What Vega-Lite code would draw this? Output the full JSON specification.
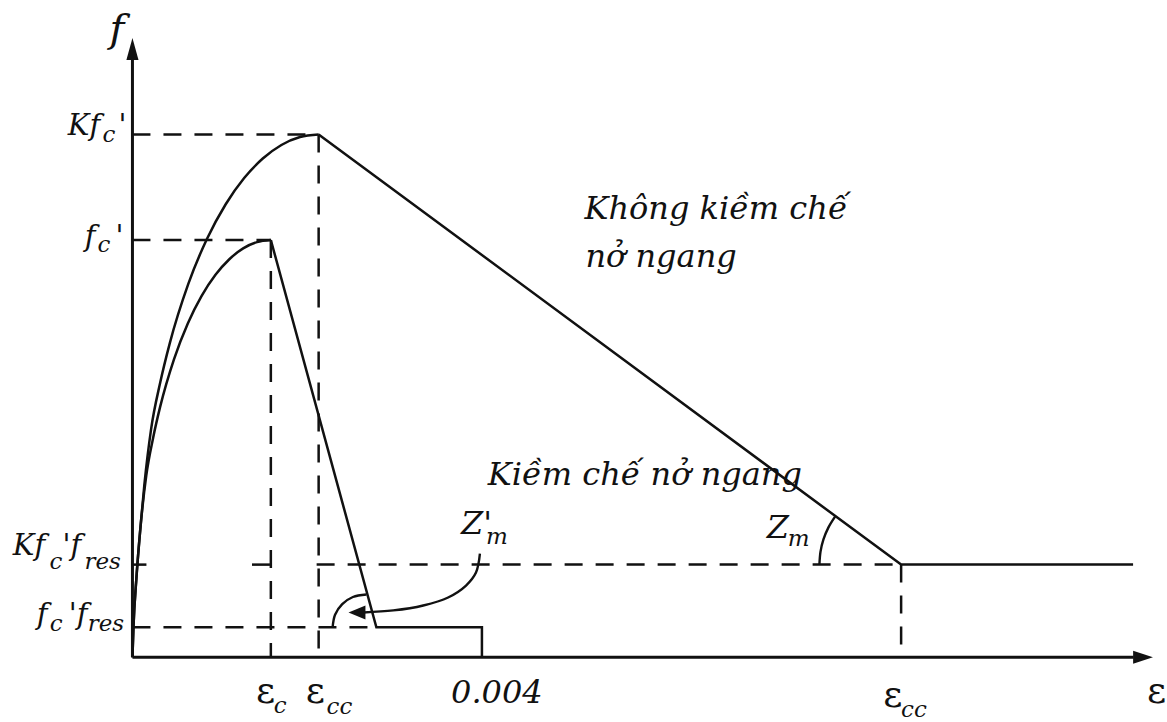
{
  "$schema": "https://vega.github.io/schema/vega-lite/v6.json",
  "width": 1167,
  "height": 722,
  "padding": 0,
  "autosize": {"type": "fit", "contains": "padding"},
  "background": "white",
  "config": {"view": {"stroke": null}},
  "datasets": {
    "rise": [
      {"s": "confined", "o": 0, "x": 0, "y": 0},
      {"s": "confined", "o": 1, "x": 0.0114, "y": 0.0716},
      {"s": "confined", "o": 2, "x": 0.0456, "y": 0.1909},
      {"s": "confined", "o": 3, "x": 0.0912, "y": 0.3103},
      {"s": "confined", "o": 4, "x": 0.1364, "y": 0.4135},
      {"s": "confined", "o": 5, "x": 0.2131, "y": 0.5462},
      {"s": "confined", "o": 6, "x": 0.3197, "y": 0.6601},
      {"s": "confined", "o": 7, "x": 0.4262, "y": 0.7518},
      {"s": "confined", "o": 8, "x": 0.6393, "y": 0.8948},
      {"s": "confined", "o": 9, "x": 0.8524, "y": 1.0024},
      {"s": "confined", "o": 10, "x": 1.0656, "y": 1.0851},
      {"s": "confined", "o": 11, "x": 1.2787, "y": 1.1484},
      {"s": "confined", "o": 12, "x": 1.4918, "y": 1.1952},
      {"s": "confined", "o": 13, "x": 1.7049, "y": 1.2277},
      {"s": "confined", "o": 14, "x": 1.918, "y": 1.2467},
      {"s": "confined", "o": 15, "x": 2.1311, "y": 1.253},
      {"s": "unconfined", "o": 0, "x": 0, "y": 0},
      {"s": "unconfined", "o": 1, "x": 0.0114, "y": 0.0716},
      {"s": "unconfined", "o": 2, "x": 0.0456, "y": 0.1909},
      {"s": "unconfined", "o": 3, "x": 0.0912, "y": 0.3103},
      {"s": "unconfined", "o": 4, "x": 0.1584, "y": 0.4359},
      {"s": "unconfined", "o": 5, "x": 0.2376, "y": 0.5268},
      {"s": "unconfined", "o": 6, "x": 0.3168, "y": 0.6},
      {"s": "unconfined", "o": 7, "x": 0.4752, "y": 0.7141},
      {"s": "unconfined", "o": 8, "x": 0.6336, "y": 0.8},
      {"s": "unconfined", "o": 9, "x": 0.792, "y": 0.866},
      {"s": "unconfined", "o": 10, "x": 0.9504, "y": 0.9165},
      {"s": "unconfined", "o": 11, "x": 1.1088, "y": 0.9539},
      {"s": "unconfined", "o": 12, "x": 1.2672, "y": 0.9798},
      {"s": "unconfined", "o": 13, "x": 1.4256, "y": 0.995},
      {"s": "unconfined", "o": 14, "x": 1.584, "y": 1.0}
    ],
    "tails": [
      {"s": "confined", "o": 0, "x": 2.1311, "y": 1.253},
      {"s": "confined", "o": 1, "x": 8.798, "y": 0.222},
      {"s": "confined", "o": 2, "x": 11.453, "y": 0.222},
      {"s": "unconfined", "o": 0, "x": 1.584, "y": 1.0},
      {"s": "unconfined", "o": 1, "x": 2.792, "y": 0.0716},
      {"s": "unconfined", "o": 2, "x": 4.0, "y": 0.0716},
      {"s": "unconfined", "o": 3, "x": 4.0, "y": 0}
    ],
    "axes": [
      {"s": "strain", "o": 0, "x": 0, "y": 0},
      {"s": "strain", "o": 1, "x": 11.46, "y": 0},
      {"s": "stress", "o": 0, "x": 0, "y": 0},
      {"s": "stress", "o": 1, "x": 0, "y": 1.44}
    ],
    "guides": [
      {"g": "Kfc", "o": 0, "x": 0, "y": 1.253},
      {"g": "Kfc", "o": 1, "x": 2.1311, "y": 1.253},
      {"g": "ecc", "o": 0, "x": 2.1311, "y": 1.253},
      {"g": "ecc", "o": 1, "x": 2.1311, "y": 0},
      {"g": "fc", "o": 0, "x": 0, "y": 1.0},
      {"g": "fc", "o": 1, "x": 1.584, "y": 1.0},
      {"g": "ec", "o": 0, "x": 1.584, "y": 1.0},
      {"g": "ec", "o": 1, "x": 1.584, "y": 0},
      {"g": "Kres_tick", "o": 0, "x": 0, "y": 0.222},
      {"g": "Kres_tick", "o": 1, "x": 0.16, "y": 0.222},
      {"g": "Kres_a", "o": 0, "x": 1.368, "y": 0.222},
      {"g": "Kres_a", "o": 1, "x": 1.584, "y": 0.222},
      {"g": "Kres_b", "o": 0, "x": 2.108, "y": 0.222},
      {"g": "Kres_b", "o": 1, "x": 8.798, "y": 0.222},
      {"g": "res", "o": 0, "x": 0, "y": 0.0716},
      {"g": "res", "o": 1, "x": 2.792, "y": 0.0716},
      {"g": "ecu", "o": 0, "x": 8.798, "y": 0.222},
      {"g": "ecu", "o": 1, "x": 8.798, "y": 0}
    ],
    "curls": [
      {"g": "angleZm1", "o": 0, "x": 2.291, "y": 0.0716},
      {"g": "angleZm1", "o": 1, "x": 2.319, "y": 0.1017},
      {"g": "angleZm1", "o": 2, "x": 2.401, "y": 0.1272},
      {"g": "angleZm1", "o": 3, "x": 2.523, "y": 0.1444},
      {"g": "angleZm1", "o": 4, "x": 2.678, "y": 0.1504},
      {"g": "pointer", "o": 0, "x": 3.977, "y": 0.2482},
      {"g": "pointer", "o": 1, "x": 3.932, "y": 0.2029},
      {"g": "pointer", "o": 2, "x": 3.818, "y": 0.1718},
      {"g": "pointer", "o": 3, "x": 3.613, "y": 0.1432},
      {"g": "pointer", "o": 4, "x": 3.328, "y": 0.1241},
      {"g": "pointer", "o": 5, "x": 2.986, "y": 0.1122},
      {"g": "pointer", "o": 6, "x": 2.644, "y": 0.1074},
      {"g": "angleZm", "o": 0, "x": 7.863, "y": 0.222},
      {"g": "angleZm", "o": 1, "x": 7.875, "y": 0.2525},
      {"g": "angleZm", "o": 2, "x": 7.909, "y": 0.2823},
      {"g": "angleZm", "o": 3, "x": 7.965, "y": 0.3107},
      {"g": "angleZm", "o": 4, "x": 8.042, "y": 0.337}
    ],
    "heads": [
      {"h": "up", "x": 0, "y": 1.458},
      {"h": "right", "x": 11.567, "y": 0},
      {"h": "left", "x": 2.57, "y": 0.1074}
    ],
    "labels": [
      {"k": "axis", "t": "f", "x": -0.262, "y": 1.475},
      {"k": "main", "t": "Kf", "x": -0.741, "y": 1.2506},
      {"k": "sub", "t": "c", "x": -0.342, "y": 1.2339},
      {"k": "main", "t": "'", "x": -0.16, "y": 1.2506},
      {"k": "main", "t": "f", "x": -0.547, "y": 0.9857},
      {"k": "sub", "t": "c", "x": -0.399, "y": 0.9714},
      {"k": "main", "t": "'", "x": -0.194, "y": 0.9857},
      {"k": "main", "t": "Kf", "x": -1.37, "y": 0.2458},
      {"k": "sub", "t": "c", "x": -0.95, "y": 0.2124},
      {"k": "main", "t": "'f", "x": -0.8, "y": 0.2458},
      {"k": "sub", "t": "res", "x": -0.55, "y": 0.2124},
      {"k": "main", "t": "f", "x": -1.094, "y": 0.0788},
      {"k": "sub", "t": "c", "x": -0.946, "y": 0.0621},
      {"k": "main", "t": "'f", "x": -0.729, "y": 0.0788},
      {"k": "sub", "t": "res", "x": -0.513, "y": 0.0621},
      {"k": "eps", "t": "ε", "x": 1.413, "y": -0.1098},
      {"k": "sub", "t": "c", "x": 1.618, "y": -0.1337},
      {"k": "eps", "t": "ε", "x": 1.983, "y": -0.1098},
      {"k": "sub", "t": "cc", "x": 2.222, "y": -0.136},
      {"k": "big", "t": "0.004", "x": 3.647, "y": -0.1098},
      {"k": "eps", "t": "ε", "x": 8.593, "y": -0.1193},
      {"k": "sub", "t": "cc", "x": 8.798, "y": -0.1432},
      {"k": "eps", "t": "ε", "x": 11.613, "y": -0.1098},
      {"k": "big", "t": "Không kiềm chế", "x": 5.174, "y": 1.05},
      {"k": "big", "t": "nở ngang", "x": 5.185, "y": 0.9356},
      {"k": "big", "t": "Kiềm chế nở ngang", "x": 4.068, "y": 0.4129},
      {"k": "big", "t": "Z'", "x": 3.761, "y": 0.296},
      {"k": "sub", "t": "m", "x": 4.046, "y": 0.272},
      {"k": "big", "t": "Z", "x": 7.259, "y": 0.2864},
      {"k": "sub", "t": "m", "x": 7.499, "y": 0.2673}
    ]
  },
  "encoding": {
    "x": {"field": "x", "type": "quantitative", "axis": null,
          "scale": {"domain": [-1.516, 11.784], "nice": false, "zero": false}},
    "y": {"field": "y", "type": "quantitative", "axis": null,
          "scale": {"domain": [-0.148, 1.5752], "nice": false, "zero": false}}
  },
  "layer": [
    {
      "data": {"name": "guides"},
      "mark": {"type": "line", "color": "#111", "strokeWidth": 2.5, "strokeDash": [18, 13], "strokeCap": "butt"},
      "encoding": {"detail": {"field": "g"}, "order": {"field": "o", "type": "quantitative"}}
    },
    {
      "data": {"name": "rise"},
      "mark": {"type": "line", "color": "#111", "strokeWidth": 2.5, "interpolate": "monotone"},
      "encoding": {"detail": {"field": "s"}, "order": {"field": "o", "type": "quantitative"}}
    },
    {
      "data": {"name": "tails"},
      "mark": {"type": "line", "color": "#111", "strokeWidth": 2.5, "strokeJoin": "miter"},
      "encoding": {"detail": {"field": "s"}, "order": {"field": "o", "type": "quantitative"}}
    },
    {
      "data": {"name": "curls"},
      "mark": {"type": "line", "color": "#111", "strokeWidth": 2.4, "interpolate": "catmull-rom"},
      "encoding": {"detail": {"field": "g"}, "order": {"field": "o", "type": "quantitative"}}
    },
    {
      "data": {"name": "axes"},
      "mark": {"type": "line", "color": "#111", "strokeWidth": 3},
      "encoding": {"detail": {"field": "s"}, "order": {"field": "o", "type": "quantitative"}}
    },
    {
      "data": {"name": "heads"},
      "mark": {"type": "point", "filled": true, "color": "#111", "opacity": 1, "size": 484},
      "encoding": {
        "shape": {"field": "h", "type": "nominal", "legend": null,
                  "scale": {"domain": ["up", "right", "left"],
                            "range": ["M0,-1L0.55,1L-0.55,1Z", "M0.9,0L-0.9,-0.6L-0.9,0.6Z", "M-0.77,0L0.77,-0.64L0.77,0.64Z"]}}
      }
    },
    {
      "data": {"name": "labels"},
      "transform": [{"filter": "datum.k === 'main'"}],
      "mark": {"type": "text", "font": "DejaVu Serif", "fontStyle": "italic", "fontSize": 29, "align": "left", "baseline": "alphabetic", "color": "#111"},
      "encoding": {"text": {"field": "t"}}
    },
    {
      "data": {"name": "labels"},
      "transform": [{"filter": "datum.k === 'sub'"}],
      "mark": {"type": "text", "font": "DejaVu Serif", "fontStyle": "italic", "fontSize": 23, "align": "left", "baseline": "alphabetic", "color": "#111"},
      "encoding": {"text": {"field": "t"}}
    },
    {
      "data": {"name": "labels"},
      "transform": [{"filter": "datum.k === 'big'"}],
      "mark": {"type": "text", "font": "DejaVu Serif", "fontStyle": "italic", "fontSize": 32, "align": "left", "baseline": "alphabetic", "color": "#111"},
      "encoding": {"text": {"field": "t"}}
    },
    {
      "data": {"name": "labels"},
      "transform": [{"filter": "datum.k === 'axis'"}],
      "mark": {"type": "text", "font": "DejaVu Serif", "fontStyle": "italic", "fontSize": 40, "align": "left", "baseline": "alphabetic", "color": "#111"},
      "encoding": {"text": {"field": "t"}}
    },
    {
      "data": {"name": "labels"},
      "transform": [{"filter": "datum.k === 'eps'"}],
      "mark": {"type": "text", "font": "DejaVu Serif", "fontSize": 37, "align": "left", "baseline": "alphabetic", "color": "#111"},
      "encoding": {"text": {"field": "t"}}
    }
  ]
}
